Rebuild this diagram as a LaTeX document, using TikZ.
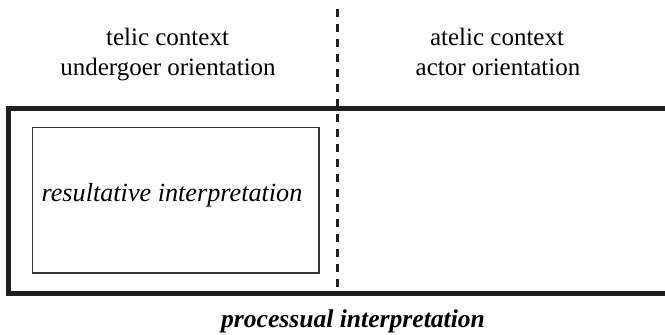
\documentclass[tikz,border=0pt]{standalone}
\usepackage{fontspec}
\setmainfont{Liberation Serif}
\begin{document}
\begin{tikzpicture}[x=1pt,y=-1pt,
  lbl/.style={inner sep=0pt,anchor=base,font=\fontsize{25}{30}\selectfont},
  ilbl/.style={lbl,font=\fontsize{26.2}{30}\selectfont\itshape},
  blbl/.style={lbl,font=\fontsize{25.6}{30}\selectfont\bfseries\itshape},
  outer/.style={line width=5pt,draw=black!88},
  innerbox/.style={line width=1.3pt,draw=black!80},
  divider/.style={line width=3pt,draw=black!88,dash pattern=on 7.5pt off 7.5pt}]
\useasboundingbox (0,0) rectangle (665,335);
\coordinate (dtop) at (337,9);
\coordinate (dbot) at (337,287);
\draw[divider] (dtop) -- (dbot);
\coordinate (otr) at (667,108);
\coordinate (otl) at (8,108);
\coordinate (obl) at (8,293);
\coordinate (obr) at (667,293);
\draw[outer] (otr) -- (otl) -- (obl) -- (obr);
\node[innerbox,rectangle,minimum width=286.5pt,minimum height=145.5pt,inner sep=0pt] (inner) at (175.75,200.25) {};
\node[ilbl] (res) at (172,201) {resultative interpretation};
\node[lbl] (t1) at (167.5,45) {telic context};
\node[lbl] (t2) at (168,75) {undergoer orientation};
\node[lbl] (a1) at (497,45) {atelic context};
\node[lbl] (a2) at (498,75) {actor orientation};
\node[blbl] (proc) at (353,327) {processual interpretation};
\end{tikzpicture}
\end{document}
